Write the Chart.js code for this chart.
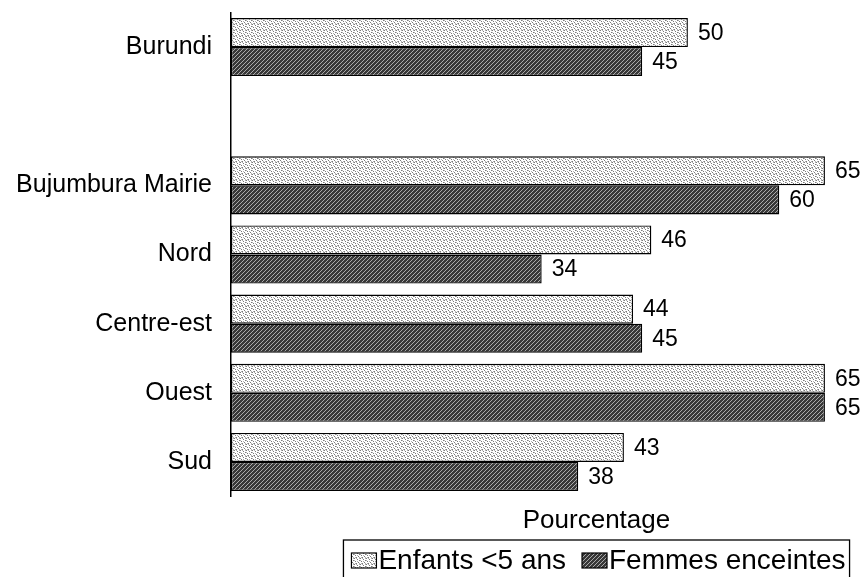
<!DOCTYPE html>
<html>
<head>
<meta charset="utf-8">
<script src="https://cdn.jsdelivr.net/npm/chart.js@4.4.1/dist/chart.umd.min.js"></script>
<style>
  html, body { margin: 0; padding: 0; background: #fff; overflow: hidden; }
  /* plot area runs past the right edge of the window, like the original crop */
  #wrap { width: 962px; height: 577px; }
</style>
</head>
<body>
<div id="wrap"><canvas id="chart"></canvas></div>
<script>
const regions = ['Burundi', '', 'Bujumbura Mairie', 'Nord', 'Centre-est', 'Ouest', 'Sud'];
const enfants = [50, null, 65, 46, 44, 65, 43];
const femmes = [45, null, 60, 34, 45, 65, 38];
const seriesNames = ['Enfants <5 ans', 'Femmes enceintes'];
const axisTitle = 'Pourcentage';

const FONT = '"Liberation Sans", Arial, sans-serif';

// stipple fill for the first series
function dotPattern() {
    const c = document.createElement('canvas');
    c.width = 6; c.height = 6;
    const g = c.getContext('2d');
    g.fillStyle = '#ffffff';
    g.fillRect(0, 0, 6, 6);
    g.fillStyle = '#7a7a7a';
    [[0, 0], [3, 1], [1, 3], [4, 4], [2, 5], [5, 2]].forEach(([x, y]) => g.fillRect(x, y, 1, 1));
    g.fillStyle = '#b0b0b0';
    [[2, 0], [5, 0], [0, 2], [3, 3], [5, 5], [1, 5]].forEach(([x, y]) => g.fillRect(x, y, 1, 1));
    return g.createPattern(c, 'repeat');
}

// dark diagonal hatch for the second series
function hatchPattern() {
    const c = document.createElement('canvas');
    c.width = 4; c.height = 4;
    const g = c.getContext('2d');
    g.fillStyle = '#383838';
    g.fillRect(0, 0, 4, 4);
    g.fillStyle = '#aaaaaa';
    [[3, 0], [2, 1], [1, 2], [0, 3]].forEach(([x, y]) => g.fillRect(x, y, 1, 1));
    return g.createPattern(c, 'repeat');
}

const fills = [dotPattern(), hatchPattern()];

// numbers at the end of each bar
const valueLabels = {
    id: 'valueLabels',
    afterDatasetsDraw(chart) {
        const ctx = chart.ctx;
        ctx.save();
        ctx.font = '23px ' + FONT;
        ctx.fillStyle = '#000';
        ctx.textAlign = 'left';
        ctx.textBaseline = 'middle';
        chart.data.datasets.forEach((ds, i) => {
            chart.getDatasetMeta(i).data.forEach((bar, j) => {
                if (ds.data[j] == null) return;
                ctx.fillText(ds.data[j], bar.x + 10, bar.y + 1);
            });
        });
        ctx.restore();
    }
};

// axis title and boxed legend, centred on the plot area
const bottomText = {
    id: 'bottomText',
    afterDraw(chart) {
        const ctx = chart.ctx;
        const area = chart.chartArea;
        const cx = (area.left + area.right) / 2;
        ctx.save();
        ctx.fillStyle = '#000';
        ctx.font = '26px ' + FONT;
        ctx.textAlign = 'center';
        ctx.textBaseline = 'alphabetic';
        ctx.fillText(axisTitle, cx, area.bottom + 31);

        ctx.font = '28px ' + FONT;
        ctx.textAlign = 'left';
        const sw = 25, sh = 15, padL = 8, padR = 4, gapText = 2, gapItem = 16;
        const w1 = ctx.measureText(seriesNames[0]).width;
        const w2 = ctx.measureText(seriesNames[1]).width;
        const boxW = padL + sw + gapText + w1 + gapItem + sw + gapText + w2 + padR;
        const boxTop = area.bottom + 43.5;
        const boxH = 46;
        let x = cx - boxW / 2;
        ctx.strokeStyle = '#000';
        ctx.lineWidth = 1.3;
        ctx.strokeRect(x, boxTop, boxW, boxH);
        x += padL;
        const baseline = boxTop + 28.5;
        [w1, w2].forEach((w, i) => {
            ctx.fillStyle = fills[i];
            ctx.fillRect(x, boxTop + 13, sw, sh);
            ctx.lineWidth = 1.2;
            ctx.strokeRect(x, boxTop + 13, sw, sh);
            ctx.fillStyle = '#000';
            ctx.fillText(seriesNames[i], x + sw + gapText, baseline);
            x += sw + gapText + w + gapItem;
        });
        ctx.restore();
    }
};

new Chart(document.getElementById('chart'), {
    type: 'bar',
    data: {
        labels: regions,
        datasets: [
            { label: seriesNames[0], data: enfants, backgroundColor: fills[0] },
            { label: seriesNames[1], data: femmes, backgroundColor: fills[1] }
        ]
    },
    options: {
        indexAxis: 'y',
        responsive: true,
        maintainAspectRatio: false,
        animation: false,
        layout: { padding: { top: 12.5, bottom: 80.5, left: 0, right: 0 } },
        datasets: {
            bar: {
                categoryPercentage: 0.84,
                barPercentage: 1,
                borderColor: '#000',
                borderWidth: 1.4,
                borderSkipped: false
            }
        },
        scales: {
            x: {
                display: false,
                min: 0,
                max: 80
            },
            y: {
                grid: { display: false, drawTicks: false },
                border: { display: true, color: '#000', width: 1.5 },
                ticks: {
                    color: '#000',
                    padding: 19,
                    font: { family: FONT, size: 25 }
                },
                afterFit(scale) {
                    scale.width = 231;
                    scale.paddingTop = 0;
                    scale.paddingBottom = 0;
                }
            }
        },
        plugins: {
            legend: { display: false },
            tooltip: { enabled: false }
        }
    },
    plugins: [valueLabels, bottomText]
});
</script>
</body>
</html>
